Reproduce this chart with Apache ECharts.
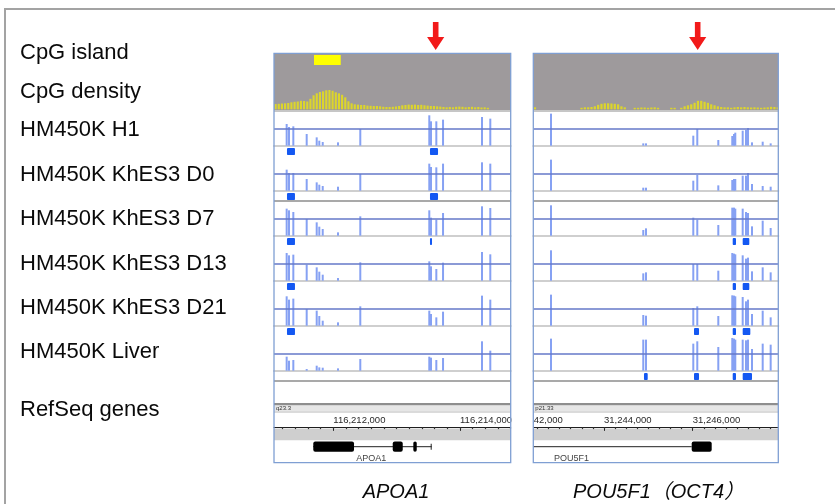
<!DOCTYPE html>
<html><head><meta charset="utf-8">
<script src="https://cdn.jsdelivr.net/npm/echarts@6/dist/echarts.min.js"></script>
<style>html,body{margin:0;padding:0;background:#fff}#c{width:835px;height:504px}</style>
</head><body><div id="c"></div><script>
// ---------- labels ----------
const rowLabels = ['CpG island','CpG density','HM450K H1','HM450K KhES3 D0','HM450K KhES3 D7','HM450K KhES3 D13','HM450K KhES3 D21','HM450K Liver','RefSeq genes'];
const geneTitles = ['APOA1','POU5F1（OCT4）'];

// ---------- APOA1 locus (chr11) ----------
const apoaView = [116211064, 116214800];
const apoaProbes = [116211264,116211301,116211369,116211580,116211738,116211779,116211833,116212074,116212426,116213515,116213542,116213626,116213732,116214347,116214478];
const apoaH1    = [0.65,0.56,0.58,0.35,0.25,0.15,0.11,0.10,0.50,0.91,0.73,0.73,0.78,0.86,0.81];
const apoaD0    = [0.63,0.53,0.53,0.35,0.25,0.18,0.14,0.12,0.50,0.81,0.71,0.70,0.81,0.85,0.81];
const apoaD7    = [0.81,0.76,0.71,0.50,0.40,0.27,0.20,0.10,0.58,0.76,0.54,0.48,0.68,0.88,0.83];
const apoaD13   = [0.83,0.76,0.78,0.48,0.40,0.27,0.18,0.08,0.55,0.58,0.43,0.35,0.54,0.86,0.79];
const apoaD21   = [0.88,0.78,0.81,0.50,0.45,0.29,0.15,0.10,0.58,0.45,0.35,0.25,0.42,0.90,0.78];
const apoaLiver = [0.42,0.30,0.32,0.05,0.15,0.10,0.09,0.07,0.35,0.42,0.39,0.32,0.38,0.88,0.60];
const apoaSegH1 = [[116211269,116211395],[116213526,116213653]];
const apoaSegD0 = [[116211269,116211395],[116213526,116213653]];
const apoaSegD7 = [[116211269,116211395],[116213526,116213558]];
const apoaSegD13 = [[116211269,116211395]];
const apoaSegD21 = [[116211269,116211395]];
const apoaSegLiver = [];
const apoaIsland = [[116211695,116212117]];
const apoaArrow = [116213616];
const apoaDensityStart = 116211064, apoaDensityBin = 50;
const apoaDensity = [5.3,5.5,5.8,6.0,6.3,7.0,7.5,7.8,8.5,8.3,7.8,10.5,14,16,17.3,18,19,19.3,18.5,17,16,14.5,12,8,6,5,4.7,4.3,4.3,3.7,3.5,3.3,3.3,3.0,2.5,2.3,2.3,2.5,2.8,3.3,4.0,4.3,4.7,4.5,4.7,4.3,4.5,4.0,3.7,3.3,3.3,3.0,2.7,2.3,2.0,2.3,2.0,2.5,2.7,2.5,2.0,2.3,2.5,2.0,2.3,1.8,2.0,1.5];
const apoaSpan = [116211684,116213553];
const apoaExons = [[116211684,116212327],[116212938,116213096],[116213263,116213317]];
const apoaUTR = [[116213543,116213553]];
const apoaLabelPos = 116212600;
const apoaBand = 'q23.3';
const apoaMajorTicks = [116212000,116214000];

// ---------- POU5F1 locus (chr6) ----------
const pouView = [31242406, 31247931];
const pouProbes = [31242805,31244886,31244947,31246014,31246104,31246578,31246893,31246932,31246961,31247128,31247202,31247248,31247338,31247579,31247759];
const pouH1    = [0.96,0.07,0.07,0.30,0.50,0.17,0.29,0.35,0.39,0.45,0.47,0.53,0.10,0.12,0.07];
const pouD0    = [0.93,0.09,0.09,0.30,0.47,0.16,0.32,0.35,0.35,0.45,0.45,0.53,0.20,0.14,0.12];
const pouD7    = [0.91,0.17,0.22,0.54,0.48,0.32,0.84,0.84,0.81,0.81,0.71,0.68,0.28,0.45,0.23];
const pouD13   = [0.91,0.22,0.25,0.50,0.50,0.30,0.83,0.81,0.79,0.76,0.66,0.69,0.28,0.40,0.25];
const pouD21   = [0.93,0.32,0.30,0.53,0.58,0.29,0.91,0.90,0.88,0.86,0.73,0.78,0.35,0.45,0.25];
const pouLiver = [0.96,0.93,0.93,0.81,0.88,0.71,0.98,0.96,0.93,0.93,0.91,0.93,0.65,0.81,0.78];
const pouSegH1 = [];
const pouSegD0 = [];
const pouSegD7 = [[31246903,31246977],[31247128,31247277]];
const pouSegD13 = [[31246903,31246977],[31247128,31247277]];
const pouSegD21 = [[31246030,31246143],[31246903,31246977],[31247128,31247300]];
const pouSegLiver = [[31244902,31244986],[31246030,31246143],[31246903,31246977],[31247128,31247338]];
const pouIsland = [];
const pouArrow = [31246113];
const pouDensityStart = 31242406, pouDensityBin = 75;
const pouDensity = [2,0,0,0,0,0,0,0,0,0,0,0,0,0,1.5,2,2,2.3,3,4.5,5.5,6,6,5.8,5.5,5,3,2,0,0,1.5,1.5,1.8,1.8,1.5,1.8,2,1.5,0,0,0,1.5,1.5,0,1.5,3,4,5,6.5,8.5,8.5,7.5,6.5,5,4,3,2.3,2,2,1.5,2,2.3,2,2.3,2,1.8,2,1.8,1.5,1.8,2,2.5,2.3,2];
const pouSpan = [31240000,31245978];
const pouExons = [[31245978,31246429]];
const pouUTR = [];
const pouLabelPos = 31243267;
const pouBand = 'p21.33';
const pouMajorTicks = [31242000,31244000,31246000];

// ---------- build ----------
const loci = [
  {view:apoaView, x0:274, x1:510.7, probes:apoaProbes, betas:[apoaH1,apoaD0,apoaD7,apoaD13,apoaD21,apoaLiver],
   segs:[apoaSegH1,apoaSegD0,apoaSegD7,apoaSegD13,apoaSegD21,apoaSegLiver], island:apoaIsland, arrow:apoaArrow,
   dens:apoaDensity, densStart:apoaDensityStart, densBin:apoaDensityBin, span:apoaSpan, exons:apoaExons, utr:apoaUTR,
   labelPos:apoaLabelPos, gene:'APOA1', band:apoaBand, major:apoaMajorTicks, minorStep:200, rulerMin:apoaView[0]},
  {view:pouView, x0:533.3, x1:778.3, probes:pouProbes, betas:[pouH1,pouD0,pouD7,pouD13,pouD21,pouLiver],
   segs:[pouSegH1,pouSegD0,pouSegD7,pouSegD13,pouSegD21,pouSegLiver], island:pouIsland, arrow:pouArrow,
   dens:pouDensity, densStart:pouDensityStart, densBin:pouDensityBin, span:pouSpan, exons:pouExons, utr:pouUTR,
   labelPos:pouLabelPos, gene:'POU5F1', band:pouBand, major:pouMajorTicks, minorStep:250, rulerMin:31242000}
];

const FONT = "'Liberation Sans', Arial, sans-serif";
const grids = [], xAxes = [], yAxes = [], series = [], gfx = [];
function addGrid(left, top, width, height, xmin, xmax, ymin, ymax, xExtra) {
  const gi = grids.length;
  grids.push({left, top, width, height, containLabel:false});
  xAxes.push(Object.assign({gridIndex:gi, type:'value', min:xmin, max:xmax, show:false, splitLine:{show:false}}, xExtra || {}));
  yAxes.push({gridIndex:gi, type:'value', min:ymin, max:ymax, show:false, splitLine:{show:false}});
  return {xi:xAxes.length-1, yi:yAxes.length-1, gi};
}
const baselines = [145.7,190.7,235.7,280.7,325.7,370.7];
const TRACK_H = 33.4;
const fmt = v => Math.round(v).toLocaleString('en-US');

loci.forEach(L => {
  const w = L.x1 - L.x0;
  const bpPerPx = (L.view[1]-L.view[0]) / w;
  gfx.push({type:'rect', z:-1, silent:true, shape:{x:L.x0, y:53.3, width:w, height:56.7}, style:{fill:'#9e9a9c'}});
  gfx.push({type:'rect', z:-1, silent:true, shape:{x:L.x0, y:110, width:w, height:2}, style:{fill:'#c6c6c6'}});
  gfx.push({type:'rect', z:-1, silent:true, shape:{x:L.x0, y:200, width:w, height:2}, style:{fill:'#a9a9a9'}});
  gfx.push({type:'rect', z:-1, silent:true, shape:{x:L.x0, y:380, width:w, height:2}, style:{fill:'#a9a9a9'}});
  gfx.push({type:'rect', z:-1, silent:true, shape:{x:L.x0, y:403, width:w, height:2.6}, style:{fill:'#8e8e8e'}});
  gfx.push({type:'rect', z:-1, silent:true, shape:{x:L.x0, y:405.6, width:w, height:6.4}, style:{fill:'#e6e6e6'}});
  gfx.push({type:'rect', z:-1, silent:true, shape:{x:L.x0, y:411.8, width:w, height:0.8}, style:{fill:'#b8b8b8'}});
  gfx.push({type:'rect', z:-1, silent:true, shape:{x:L.x0, y:428.5, width:w, height:11.8}, style:{fill:'#cfcfcf'}});
  gfx.push({type:'text', z:5, silent:true, style:{x:L.x0+2, y:408.8, text:L.band, fontSize:6, fontFamily:FONT, fill:'#333', verticalAlign:'middle'}});
  gfx.push({type:'rect', z:101, silent:true, shape:{x:L.x0, y:53.3, width:w, height:409.4}, style:{fill:'none', stroke:'#7f9fd3', lineWidth:1.3}});

  const isl = addGrid(L.x0, 55, w, 10, L.view[0], L.view[1], 0, 1);
  series.push({type:'custom', xAxisIndex:isl.xi, yAxisIndex:isl.yi, clip:true, silent:true, data:L.island,
    encode:{x:[0,1]},
    renderItem:(p, api) => { const a = api.coord([api.value(0),1]), b = api.coord([api.value(1),0]);
      return {type:'rect', shape:{x:a[0], y:a[1], width:b[0]-a[0], height:b[1]-a[1]}, style:{fill:'#ffff00'}}; }});
  series.push({type:'custom', xAxisIndex:isl.xi, yAxisIndex:isl.yi, clip:false, silent:true, data:L.arrow.map(v=>[v]),
    encode:{x:0},
    renderItem:(p, api) => { const c = api.coord([api.value(0),0])[0];
      return {type:'polygon', shape:{points:[[c-2.8,22],[c+2.8,22],[c+2.8,37],[c+8.6,37],[c,50],[c-8.6,37],[c-2.8,37]]}, style:{fill:'#f21a1a'}}; }});

  const den = addGrid(L.x0, 89.3, w, 20, L.view[0], L.view[1], 0, 20);
  series.push({type:'bar', xAxisIndex:den.xi, yAxisIndex:den.yi, barWidth:Math.max(1.6, L.densBin/bpPerPx*0.68), silent:true,
    itemStyle:{color:'#dcd52c'},
    data:L.dens.map((v,i)=>[L.densStart + (i+0.5)*L.densBin, v]).filter(d=>d[1]>0)});

  L.betas.forEach((b, t) => {
    const base = baselines[t];
    const g = addGrid(L.x0, base - TRACK_H, w, TRACK_H, L.view[0], L.view[1], 0, 1,
      {show:true, axisLine:{show:true, onZero:false, lineStyle:{color:'#cfcfcf', width:2}}, axisTick:{show:false}, axisLabel:{show:false}});
    series.push({type:'bar', xAxisIndex:g.xi, yAxisIndex:g.yi, barWidth:2, silent:true,
      itemStyle:{color:'#86a1f3'},
      data:L.probes.map((p,i)=>[p, b[i]]),
      markLine:{silent:true, symbol:'none', label:{show:false}, animation:false,
        lineStyle:{color:'#6479c8', width:1.6, type:'solid'}, data:[{yAxis:0.5}]}});
    const sg = addGrid(L.x0, base + 2.4, w, 7, L.view[0], L.view[1], 0, 1);
    series.push({type:'custom', xAxisIndex:sg.xi, yAxisIndex:sg.yi, clip:true, silent:true, data:L.segs[t],
      encode:{x:[0,1]},
      renderItem:(p, api) => { const a = api.coord([api.value(0),1]), e = api.coord([api.value(1),0]);
        return {type:'rect', shape:{x:a[0], y:a[1], width:Math.max(e[0]-a[0],2), height:e[1]-a[1], r:1}, style:{fill:'#1458f2'}}; }});
  });

  const rLeft = L.x0 - (L.view[0]-L.rulerMin)/bpPerPx;
  const rWidth = L.x1 - rLeft;
  const minors = [];
  for (let v = Math.ceil(L.rulerMin/L.minorStep)*L.minorStep; v <= L.view[1]; v += L.minorStep) minors.push(v);
  const rg = addGrid(rLeft, 412.3, rWidth, 15, L.rulerMin, L.view[1], 0, 1,
    {show:true, position:'bottom',
     axisLine:{show:true, onZero:false, lineStyle:{color:'#1e1e1e', width:1}},
     axisTick:{show:true, customValues:L.major, inside:false, length:3.5, lineStyle:{color:'#1e1e1e', width:1}},
     axisLabel:{show:true, customValues:L.major, inside:true, align:'left', margin:2, fontSize:9.5, fontFamily:FONT, color:'#2a2a2a', formatter:fmt,
       showMinLabel:true, showMaxLabel:true}});
  xAxes.push({gridIndex:rg.gi, type:'value', min:L.rulerMin, max:L.view[1], show:true, position:'bottom',
    axisLine:{show:false}, splitLine:{show:false}, axisLabel:{show:false},
    axisTick:{show:true, customValues:minors, inside:false, length:1.8, lineStyle:{color:'#333', width:1.2}}});

  const gg = addGrid(L.x0, 438, w, 25, L.view[0], L.view[1], 0, 1);
  series.push({type:'custom', xAxisIndex:gg.xi, yAxisIndex:gg.yi, clip:true, silent:true, data:[L.span], encode:{x:[0,1]},
    renderItem:(p, api) => { const a = api.coord([api.value(0),0])[0], e = api.coord([api.value(1),0])[0], y = p.coordSys.y + 8.7;
      return {type:'line', shape:{x1:a, y1:y, x2:e, y2:y}, style:{stroke:'#222', lineWidth:1}}; }});
  series.push({type:'custom', xAxisIndex:gg.xi, yAxisIndex:gg.yi, clip:true, silent:true, data:L.exons, encode:{x:[0,1]},
    renderItem:(p, api) => { const a = api.coord([api.value(0),0])[0], e = api.coord([api.value(1),0])[0], y = p.coordSys.y + 3.4;
      return {type:'rect', shape:{x:a, y:y, width:e-a, height:10.4, r:2}, style:{fill:'#000'}}; }});
  series.push({type:'custom', xAxisIndex:gg.xi, yAxisIndex:gg.yi, clip:true, silent:true, data:L.utr, encode:{x:[0,1]},
    renderItem:(p, api) => { const e = api.coord([api.value(1),0])[0], y = p.coordSys.y + 5.7;
      return {type:'rect', shape:{x:e-1, y:y, width:1, height:6}, style:{fill:'#222'}}; }});
  series.push({type:'custom', xAxisIndex:gg.xi, yAxisIndex:gg.yi, clip:true, silent:true, data:[[L.labelPos]], encode:{x:0},
    renderItem:(p, api) => { const c = api.coord([api.value(0),0])[0];
      return {type:'text', style:{x:c, y:p.coordSys.y + 21, text:L.gene, fontSize:9, fontFamily:FONT, fill:'#444', align:'center', verticalAlign:'middle'}}; }});
});

gfx.push({type:'rect', z:100, silent:true, shape:{x:511.6, y:409, width:21.4, height:22}, style:{fill:'#fff'}});
gfx.push({type:'rect', z:0, silent:true, shape:{x:4, y:8, width:831, height:2}, style:{fill:'#a3a3a3'}});
gfx.push({type:'rect', z:0, silent:true, shape:{x:4, y:8, width:2, height:496}, style:{fill:'#a3a3a3'}});

const labelY = [53, 92, 130, 175, 219, 264, 308, 352, 410];
rowLabels.forEach((t,i) => gfx.push({type:'text', silent:true, style:{x:20, y:labelY[i], text:t, fontSize:22, fontFamily:FONT, fill:'#0a0a0a', verticalAlign:'middle'}}));
gfx.push({type:'text', silent:true, style:{x:396, y:492, text:geneTitles[0], fontSize:20, fontStyle:'italic', fontFamily:FONT, fill:'#0a0a0a', align:'center', verticalAlign:'middle'}});
gfx.push({type:'text', silent:true, style:{x:573, y:492, text:geneTitles[1], fontSize:20, fontStyle:'italic', fontFamily:"'Liberation Sans', 'Noto Sans CJK JP', sans-serif", fill:'#0a0a0a', align:'left', verticalAlign:'middle'}});

const chart = echarts.init(document.getElementById('c'), null, {renderer:'canvas'});
chart.setOption({animation:false, grid:grids, xAxis:xAxes, yAxis:yAxes, series:series, graphic:{elements:gfx}});
</script></body></html>
